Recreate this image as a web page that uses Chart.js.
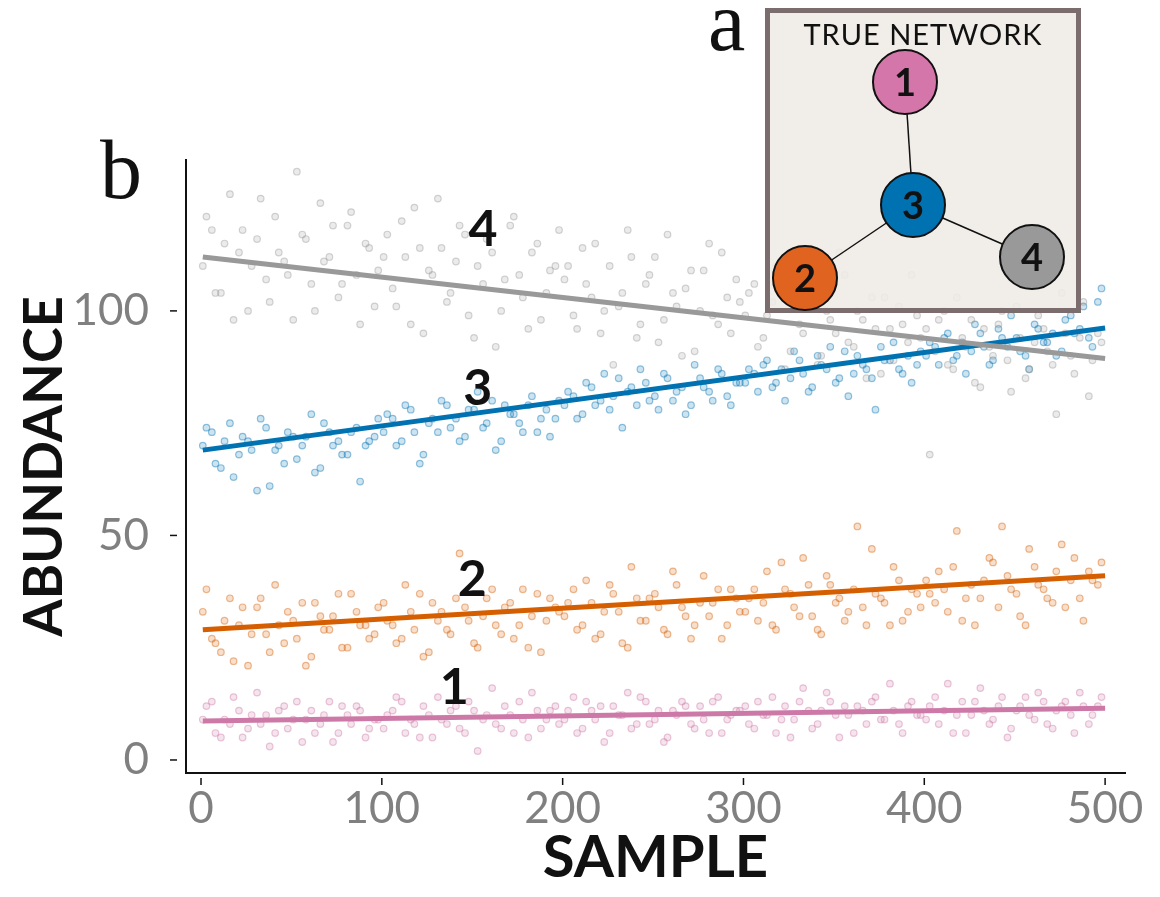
<!DOCTYPE html>
<html>
<head>
<meta charset="utf-8">
<script src="https://cdn.jsdelivr.net/npm/chart.js@4.4.1/dist/chart.umd.min.js"></script>
<style>
  html, body { margin: 0; padding: 0; background: #fff; }
  #wrap { position: relative; width: 1160px; height: 897px; overflow: hidden; }
  #main { position: absolute; left: 0; top: 0; }
  .panel { position: absolute; font-family: 'Liberation Serif', 'DejaVu Serif', serif; font-size: 84px; line-height: 1; color: #111; }
  #insetBox { position: absolute; left: 765px; top: 8px; width: 316px; height: 305px; box-sizing: border-box;
              border: 5px solid #7b6d6d; background: rgba(239, 234, 229, 0.88); }
  #insetTitle { position: absolute; left: 765px; top: 16px; width: 316px; text-align: center;
                font-family: Lato, sans-serif; font-size: 29px; color: #111; letter-spacing: 1px; }
  #inset { position: absolute; left: 765px; top: 8px; }
</style>
</head>
<body>
<div id="wrap">
  <canvas id="main" width="1160" height="897"></canvas>
  <div class="panel" style="left:100px; top:128px;">b</div>
  <div class="panel" style="left:708px; top:-20px;">a</div>
  <div id="insetBox"></div>
  <div id="insetTitle">TRUE NETWORK</div>
  <canvas id="inset" width="316" height="305"></canvas>
</div>
<script>
// sample index of the plotted points
const sampleX = [3, 8, 13, 18, 23, 28, 33, 38, 43, 48, 53, 58, 63, 68, 73, 78, 83, 88, 93, 98,
  103, 108, 113, 118, 123, 128, 133, 138, 143, 148, 153, 158, 163, 168, 173, 178, 183, 188, 193, 198,
  203, 208, 213, 218, 223, 228, 233, 238, 243, 248, 253, 258, 263, 268, 273, 278, 283, 288, 293, 298,
  303, 308, 313, 318, 323, 328, 333, 338, 343, 348, 353, 358, 363, 368, 373, 378, 383, 388, 393, 398,
  403, 408, 413, 418, 423, 428, 433, 438, 443, 448, 453, 458, 463, 468, 473, 478, 483, 488, 493, 498,
  1, 6, 11, 16, 21, 26, 31, 36, 41, 46, 51, 56, 61, 66, 71, 76, 81, 86, 91, 96,
  101, 106, 111, 116, 121, 126, 131, 136, 141, 146, 151, 156, 161, 166, 171, 176, 181, 186, 191, 196,
  201, 206, 211, 216, 221, 226, 231, 236, 241, 246, 251, 256, 261, 266, 271, 276, 281, 286, 291, 296,
  301, 306, 311, 316, 321, 326, 331, 336, 341, 346, 351, 356, 361, 366, 371, 376, 381, 386, 391, 396,
  401, 406, 411, 416, 421, 426, 431, 436, 441, 446, 451, 456, 461, 466, 471, 476, 481, 486, 491, 496];

// abundance of species 1..4
const abundance1 = [12, 6, 9, 14, 5, 10, 8, 3, 11, 7, 13, 9, 6, 10, 4, 12, 8, 11, 7, 9,
  10, 14, 6, 8, 12, 5, 9, 11, 7, 13, 2, 10, 8, 12, 6, 9, 15, 7, 11, 8,
  11, 6, 13, 9, 4, 12, 10, 7, 14, 8, 11, 5, 10, 12, 7, 9, 13, 6, 10, 11,
  8, 13, 10, 6, 12, 9, 16, 7, 11, 13, 5, 10, 12, 8, 14, 9, 11, 6, 13, 10,
  12, 8, 17, 10, 6, 13, 11, 9, 14, 7, 12, 10, 15, 8, 11, 13, 6, 12, 10, 14,
  9, 13, 5, 8, 11, 7, 15, 10, 6, 12, 9, 4, 11, 8, 13, 6, 10, 12, 5, 9,
  7, 11, 13, 9, 5, 10, 14, 8, 12, 6, 11, 9, 16, 7, 10, 13, 5, 11, 9, 12,
  9, 14, 7, 11, 12, 6, 10, 15, 8, 13, 9, 4, 11, 13, 8, 12, 6, 14, 9, 11,
  12, 7, 10, 14, 9, 5, 13, 11, 8, 15, 10, 12, 6, 11, 13, 9, 17, 8, 12, 10,
  9, 14, 11, 6, 13, 10, 16, 8, 12, 5, 11, 14, 9, 13, 7, 12, 10, 15, 8, 12];
const abundance2 = [38, 26, 31, 22, 34, 28, 36, 24, 30, 33, 27, 21, 35, 29, 32, 25, 37, 30, 27, 34,
  31, 26, 39, 29, 23, 35, 33, 28, 46, 31, 25, 36, 30, 34, 27, 38, 32, 24, 36, 33,
  35, 29, 40, 27, 33, 37, 26, 43, 31, 36, 34, 28, 39, 32, 30, 41, 35, 27, 38, 33,
  36, 31, 42, 29, 38, 34, 45, 32, 28, 39, 36, 33, 52, 30, 37, 35, 43, 31, 38, 34,
  37, 42, 33, 51, 36, 30, 40, 44, 52, 38, 32, 47, 39, 36, 42, 34, 45, 31, 40, 44,
  33, 27, 24, 36, 30, 21, 34, 28, 39, 26, 31, 35, 23, 32, 29, 37, 25, 33, 30, 28,
  35, 30, 27, 33, 37, 24, 31, 29, 36, 34, 26, 32, 38, 28, 35, 30, 25, 37, 31, 34,
  32, 38, 30, 35, 28, 39, 33, 25, 36, 31, 37, 29, 42, 34, 27, 35, 32, 38, 30, 36,
  33, 38, 35, 30, 44, 37, 32, 39, 29, 41, 35, 31, 38, 34, 47, 36, 30, 40, 33, 37,
  40, 35, 38, 43, 31, 39, 36, 45, 34, 41, 37, 30, 43, 38, 35, 48, 40, 36, 42, 39];
const abundance3 = [74, 66, 71, 63, 72, 69, 76, 61, 70, 73, 67, 72, 64, 75, 70, 68, 73, 62, 71, 76,
  77, 70, 79, 73, 68, 76, 80, 74, 71, 78, 82, 75, 69, 79, 77, 73, 81, 76, 72, 80,
  82, 76, 84, 79, 86, 81, 74, 83, 87, 80, 78, 85, 82, 77, 88, 83, 80, 86, 79, 84,
  87, 82, 89, 84, 80, 91, 86, 83, 88, 92, 85, 81, 90, 87, 78, 89, 93, 86, 84, 91,
  93, 88, 95, 90, 86, 97, 92, 89, 94, 99, 91, 87, 96, 93, 90, 98, 95, 101, 92, 105,
  70, 73, 65, 75, 68, 71, 60, 74, 69, 66, 72, 70, 77, 65, 73, 71, 68, 74, 70, 72,
  73, 76, 71, 78, 66, 75, 73, 79, 76, 72, 78, 74, 80, 71, 77, 75, 79, 73, 78, 76,
  79, 81, 77, 83, 80, 78, 85, 82, 79, 84, 81, 86, 80, 83, 79, 85, 82, 87, 81, 84,
  84, 86, 88, 83, 87, 85, 89, 82, 90, 87, 84, 91, 86, 88, 85, 92, 89, 87, 90, 88,
  90, 92, 94, 89, 93, 91, 95, 88, 96, 92, 94, 90, 97, 93, 95, 91, 99, 96, 94, 102];
const abundance4 = [121, 104, 115, 98, 118, 110, 125, 102, 113, 108, 131, 116, 100, 111, 119, 106, 122, 97, 114, 109,
  117, 101, 112, 123, 95, 108, 114, 104, 119, 99, 110, 116, 92, 107, 121, 103, 113, 98, 109, 118,
  110, 96, 106, 115, 100, 88, 104, 112, 97, 108, 93, 117, 101, 105, 91, 109, 99, 113, 95, 102,
  104, 92, 99, 110, 87, 101, 95, 106, 90, 98, 113, 93, 100, 85, 96, 103, 89, 97, 108, 94,
  68, 98, 88, 103, 92, 84, 96, 90, 100, 82, 94, 87, 99, 91, 77, 95, 86, 102, 89, 93,
  110, 118, 104, 126, 113, 100, 116, 107, 121, 111, 98, 117, 106, 124, 112, 103, 119, 108, 115, 101,
  112, 105, 120, 97, 114, 109, 125, 102, 111, 117, 94, 106, 113, 100, 119, 108, 96, 115, 104, 110,
  107, 99, 114, 103, 95, 110, 101, 118, 94, 106, 112, 98, 104, 90, 109, 100, 115, 97, 103, 107,
  99, 106, 94, 102, 111, 91, 97, 104, 88, 100, 95, 108, 92, 98, 103, 86, 96, 101, 93, 99,
  96, 91, 100, 87, 94, 98, 83, 92, 97, 89, 101, 85, 93, 96, 88, 104, 90, 94, 81, 95];

// fitted trend lines (start / end sample)
const trendX = [1, 500];
const trend1 = [8.7, 11.5];
const trend2 = [29, 41];
const trend3 = [69, 96.2];
const trend4 = [112, 89.4];

const xTicks = [0, 100, 200, 300, 400, 500];
const yTicks = [0, 50, 100];

// true network (inset)
const nodeLabels = ['1', '2', '3', '4'];
const nodeX = [140, 40, 148, 267];
const nodeY = [74, 270, 197, 249];
const edgeFrom = [0, 2, 2];
const edgeTo = [2, 1, 3];

const colors = ['#CC79A7', '#D55E00', '#0072B2', '#999999'];
const rgba = (hex, a) => {
  const n = parseInt(hex.slice(1), 16);
  return `rgba(${n >> 16},${(n >> 8) & 255},${n & 255},${a})`;
};

const series = [abundance1, abundance2, abundance3, abundance4];
const trends = [trend1, trend2, trend3, trend4];

const pointSets = series.map((ys, i) => ({
  data: sampleX.map((x, k) => ({ x, y: ys[k] })),
  pointRadius: 3.3,
  pointBackgroundColor: rgba(colors[i], 0.2),
  pointBorderColor: rgba(colors[i], 0.42),
  pointBorderWidth: 1.2,
  order: 10 - i
}));
const lineSets = trends.map((ys, i) => ({
  data: trendX.map((x, k) => ({ x, y: ys[k] })),
  showLine: true,
  borderColor: colors[i],
  borderWidth: 5,
  pointRadius: 0,
  order: 4 - i
}));

const xkcdTicks = {
  id: 'xkcdTicks',
  afterDraw(chart) {
    const { ctx, chartArea, scales } = chart;
    ctx.save();
    ctx.strokeStyle = '#111';
    ctx.lineWidth = 1.5;
    yTicks.forEach(v => {
      const py = scales.y.getPixelForValue(v);
      ctx.beginPath(); ctx.moveTo(chartArea.left - 16, py); ctx.lineTo(chartArea.left - 9, py); ctx.stroke();
    });
    xTicks.forEach(v => {
      const px = scales.x.getPixelForValue(v);
      ctx.beginPath(); ctx.moveTo(px, chartArea.bottom + 5); ctx.lineTo(px, chartArea.bottom + 12); ctx.stroke();
    });
    ctx.restore();
  }
};

const lineLabels = {
  id: 'lineLabels',
  afterDatasetsDraw(chart, args, opts) {
    const { ctx, scales } = chart;
    ctx.save();
    ctx.fillStyle = '#111';
    ctx.font = 'bold 50px Lato, sans-serif';
    ctx.textAlign = 'center';
    ctx.textBaseline = 'middle';
    opts.items.forEach(it => {
      ctx.fillText(it.text, scales.x.getPixelForValue(it.x), scales.y.getPixelForValue(it.y));
    });
    ctx.restore();
  }
};

new Chart(document.getElementById('main'), {
  type: 'scatter',
  data: { datasets: [...pointSets, ...lineSets] },
  options: {
    responsive: false,
    animation: false,
    layout: { padding: { top: 160, right: 35, left: 0, bottom: 0 } },
    scales: {
      x: {
        type: 'linear', min: -8.3, max: 511,
        afterBuildTicks: s => { s.ticks = xTicks.map(v => ({ value: v })); },
        afterFit: s => { s.height = 124; },
        grid: { display: false },
        border: { display: true, color: '#111', width: 2 },
        ticks: { color: '#808080', padding: 1, font: { family: 'Lato', size: 44 } },
        title: { display: true, text: 'SAMPLE', color: '#111', padding: { top: 0, bottom: 4 },
                 font: { family: 'Lato', size: 58, weight: 'bold' } }
      },
      y: {
        type: 'linear', min: -2.9, max: 133.6,
        afterBuildTicks: s => { s.ticks = yTicks.map(v => ({ value: v })); },
        afterFit: s => { s.width = 186; },
        grid: { display: false },
        border: { display: true, color: '#111', width: 2 },
        ticks: { color: '#808080', padding: 29, font: { family: 'Lato', size: 44 } },
        title: { display: true, text: 'ABUNDANCE', color: '#111', padding: { top: 12, bottom: 0 },
                 font: { family: 'Lato', size: 54, weight: 'bold' } }
      }
    },
    plugins: {
      legend: { display: false },
      tooltip: { enabled: false },
      lineLabels: { items: [
        { text: '4', x: 156, y: 118 },
        { text: '3', x: 153, y: 82.6 },
        { text: '2', x: 150, y: 40 },
        { text: '1', x: 140, y: 16 }
      ] }
    }
  },
  plugins: [xkcdTicks, lineLabels]
});

const nodeText = {
  id: 'nodeText',
  afterDatasetsDraw(chart) {
    const { ctx } = chart;
    const meta = chart.getDatasetMeta(chart.data.datasets.length - 1);
    ctx.save();
    ctx.fillStyle = '#111';
    ctx.font = 'bold 38px Lato, sans-serif';
    ctx.textAlign = 'center';
    ctx.textBaseline = 'middle';
    meta.data.forEach((p, i) => ctx.fillText(nodeLabels[i], p.x, p.y + 2));
    ctx.restore();
  }
};

new Chart(document.getElementById('inset'), {
  type: 'scatter',
  data: {
    datasets: [
      ...edgeFrom.map((a, i) => ({
        data: [{ x: nodeX[a], y: nodeY[a] }, { x: nodeX[edgeTo[i]], y: nodeY[edgeTo[i]] }],
        showLine: true, borderColor: '#111', borderWidth: 1.5, pointRadius: 0, order: 2, clip: false
      })),
      {
        data: nodeX.map((x, i) => ({ x, y: nodeY[i] })),
        pointRadius: 32,
        pointBackgroundColor: ['#D576AB', '#E0631F', '#0072B2', '#999999'],
        pointBorderColor: '#111',
        pointBorderWidth: 2,
        order: 1,
        clip: false
      }
    ]
  },
  options: {
    responsive: false,
    animation: false,
    layout: { padding: 0, autoPadding: false },
    scales: {
      x: { display: false, min: 0, max: 316 },
      y: { display: false, min: 0, max: 305, reverse: true }
    },
    plugins: { legend: { display: false }, tooltip: { enabled: false } }
  },
  plugins: [nodeText]
});
</script>
</body>
</html>
